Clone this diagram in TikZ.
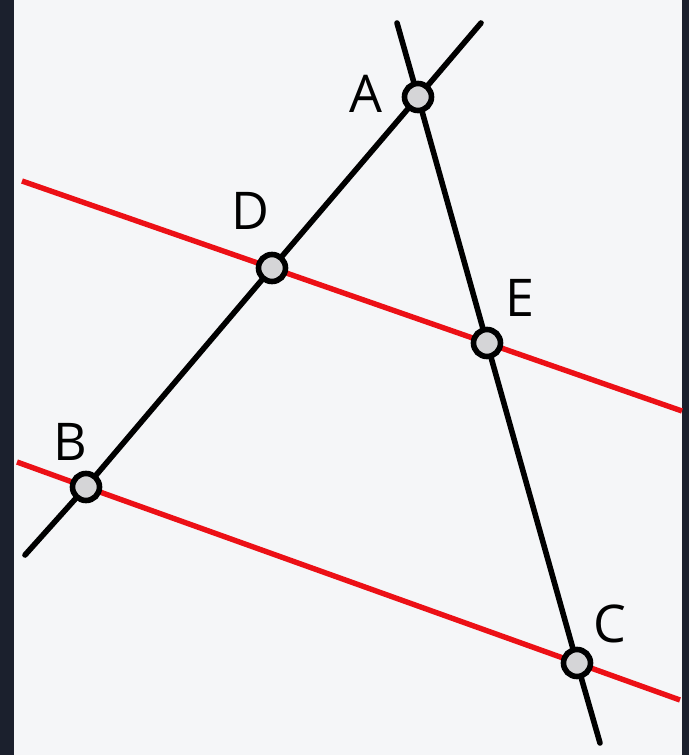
\documentclass[tikz,border=0pt]{standalone}
\usepackage{fontspec}
\setmainfont{Open Sans}
\usepackage{xcolor}
\definecolor{FrameDark}{HTML}{1B202D}
\definecolor{PaperBg}{HTML}{F5F6F8}
\definecolor{ParRed}{HTML}{EC1016}
\definecolor{PointFill}{HTML}{D5D5D7}
\usepackage{tikz}

\begin{document}
\begin{tikzpicture}[x=0.5pt, y=-0.5pt, every node/.style={font=\fontsize{26}{30}\selectfont, inner sep=0pt},
  pt/.style={circle, draw, line width=2.8pt, fill=PointFill, minimum size=13.5pt},
  side/.style={line width=2.8pt, line cap=round},
  par/.style={line width=2.7pt, ParRed}]
  \fill[FrameDark] (0,0) rectangle (689,755);
  \fill[PaperBg] (14,0) rectangle (682,755);
  \useasboundingbox (0,0) rectangle (689,755);
  % points
  \coordinate (a) at (418,97);
  \coordinate (b) at (86,487);
  \coordinate (c) at (577,663);
  \coordinate (d) at (272,268);
  \coordinate (e) at (487,343);
  % free ends of the lines
  \coordinate (abTop) at (481,23);
  \coordinate (abEnd) at (25,555);
  \coordinate (acTop) at (397,23);
  \coordinate (acEnd) at (600,743);
  \coordinate (deLeft) at (22,181);
  \coordinate (deRight) at (682,411);
  \coordinate (bcLeft) at (17,462);
  \coordinate (bcRight) at (680,700);
  \draw[par] (deLeft) -- (d) -- (e) -- (deRight);
  \draw[par] (bcLeft) -- (b) -- (c) -- (bcRight);
  \draw[side] (abTop) -- (a) -- (d) -- (b) -- (abEnd);
  \draw[side] (acTop) -- (a) -- (e) -- (c) -- (acEnd);
  \node[pt] (A) at (a) {};
  \node[pt] (B) at (b) {};
  \node[pt] (C) at (c) {};
  \node[pt] (D) at (d) {};
  \node[pt] (E) at (e) {};
  % labels
  \node (labA) at (366,94) {A};
  \node (labB) at (70,442) {B};
  \node (labC) at (610,624) {C};
  \node (labD) at (250,211) {D};
  \node (labE) at (520,298) {E};
\end{tikzpicture}
\end{document}
